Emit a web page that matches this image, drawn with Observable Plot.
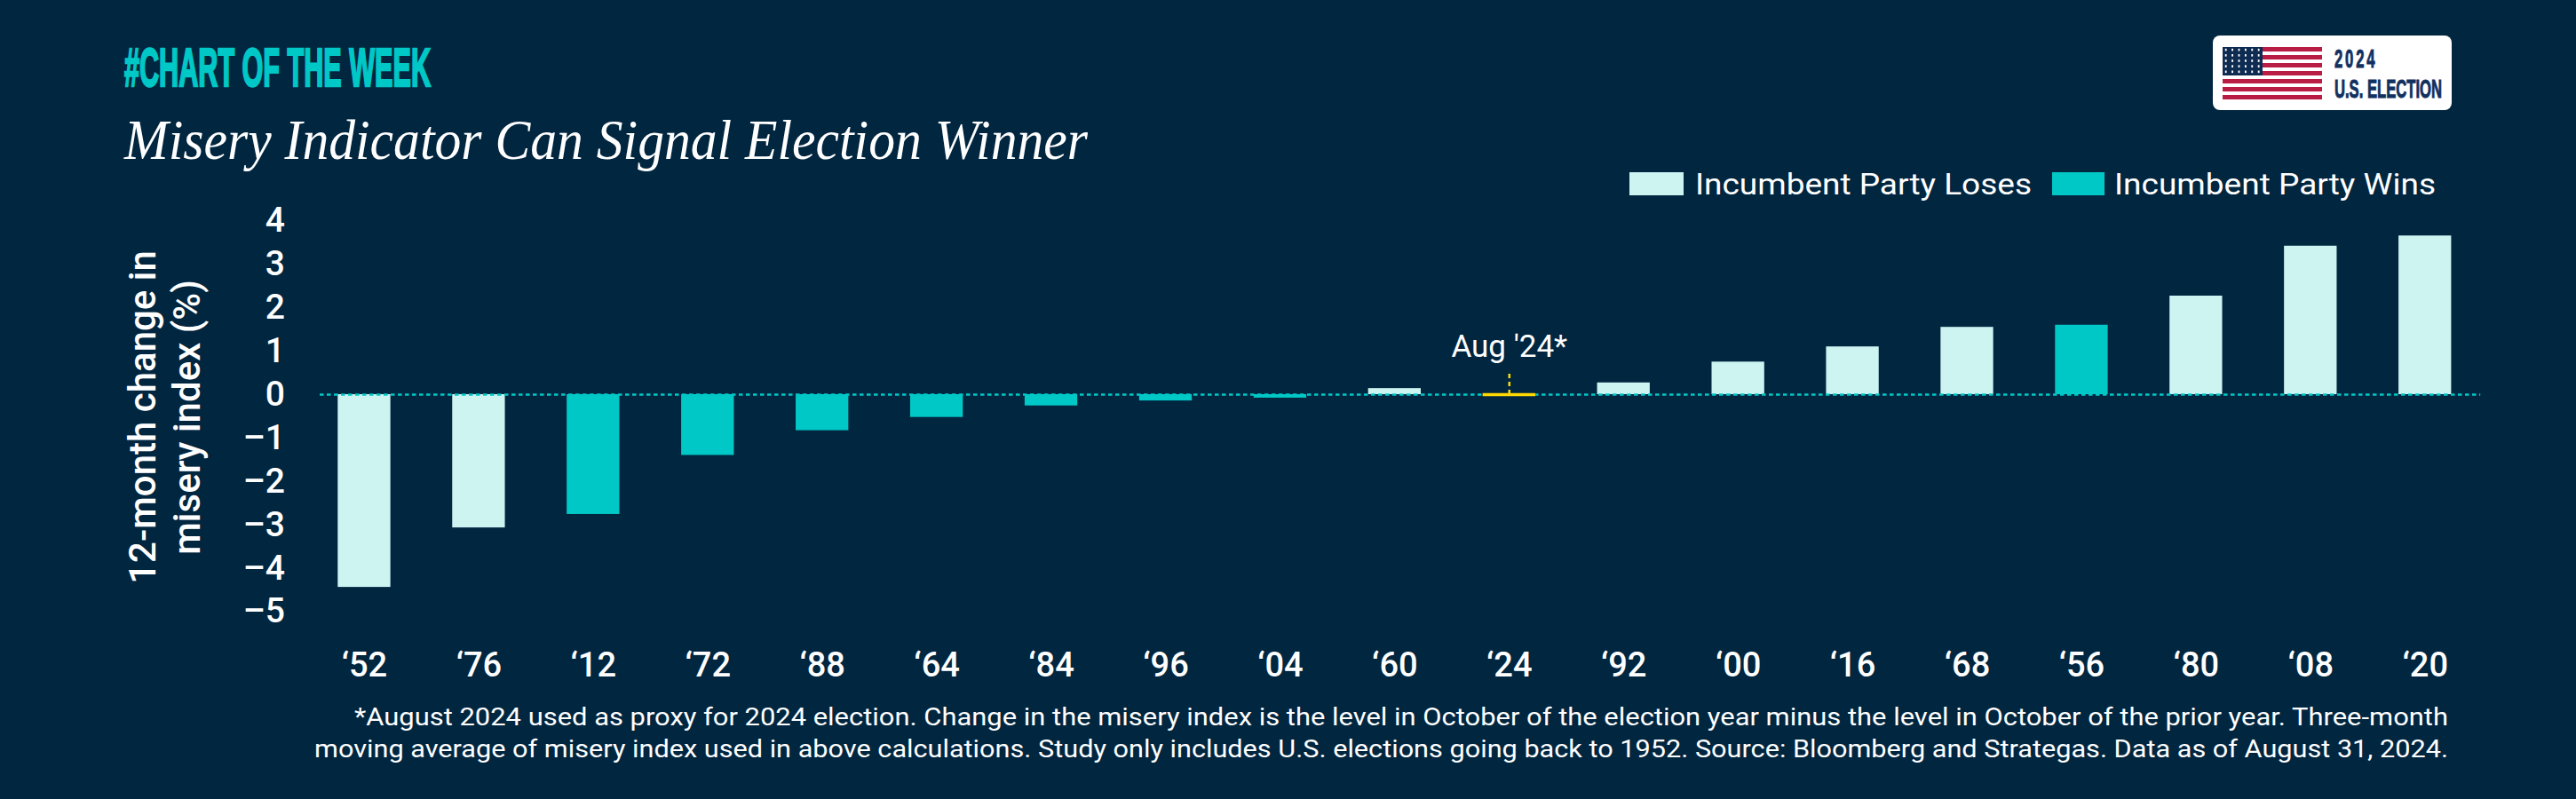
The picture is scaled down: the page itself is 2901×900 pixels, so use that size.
<!DOCTYPE html>
<html>
<head>
<meta charset="utf-8">
<script src="https://cdn.jsdelivr.net/npm/d3@7"></script>
<script src="https://cdn.jsdelivr.net/npm/@observablehq/plot@0.6"></script>
<style>
html,body{margin:0;padding:0;background:#012640;}
#page{position:relative;width:2901px;height:900px;overflow:hidden;background:#012640;}
#page svg.chart{position:absolute;left:0;top:0;}
.t{position:absolute;white-space:nowrap;line-height:1;color:#fff;transform-origin:0 0;}
.sw{position:absolute;}
#logo{position:absolute;left:2492px;top:40px;width:269px;height:84px;background:#fff;border-radius:8px;}
#flag{position:absolute;left:11px;top:13px;width:112px;height:59px;
 background:repeating-linear-gradient(to bottom,#b91c45 0,#b91c45 4.54px,#fff 4.54px,#fff 9.08px);}
#canton{position:absolute;left:0;top:0;width:45px;height:32px;background-color:#0e2b52;
 background-image:radial-gradient(circle,#fff 1px,transparent 1.3px);background-size:7.4px 6.2px;}
</style>
</head>
<body>
<div id="page">
  <div class="t" id="kicker" style="left:140px;top:40px;font:700 62px 'Liberation Sans';color:#00c8c6;-webkit-text-stroke:2.5px #00c8c6;">#CHART OF THE WEEK</div>
  <div class="t" id="title" style="left:140px;top:121px;font:italic 400 64px 'Liberation Serif';">Misery Indicator Can Signal Election Winner</div>
  <div class="sw" style="left:1835px;top:194px;width:61px;height:26px;background:#cef4f2;"></div>
  <div class="t" id="lg1" style="left:1909px;top:188px;font:400 33px Roboto;">Incumbent Party Loses</div>
  <div class="sw" style="left:2311px;top:194px;width:59px;height:26px;background:#00c8c6;"></div>
  <div class="t" id="lg2" style="left:2381px;top:188px;font:400 33px Roboto;">Incumbent Party Wins</div>
  <div id="logo">
    <div id="flag"><div id="canton"></div></div>
    <div class="t" id="lo" style="left:137px;top:10px;line-height:33.5px;font-family:'Liberation Sans';font-weight:700;font-size:29px;color:#12305f;-webkit-text-stroke:1px #12305f;"><span style="letter-spacing:5px;">2024</span><br>U.S. ELECTION</div>
  </div>
  <div class="t" id="fn1" style="left:399px;top:791px;font:400 28px Roboto;">*August 2024 used as proxy for 2024 election. Change in the misery index is the level in October of the election year minus the level in October of the prior year. Three-month</div>
  <div class="t" id="fn2" style="left:354px;top:827px;font:400 28px Roboto;">moving average of misery index used in above calculations. Study only includes U.S. elections going back to 1952. Source: Bloomberg and Strategas. Data as of August 31, 2024.</div>
</div>
<script>
const years = ["‘52","‘76","‘12","‘72","‘88","‘64","‘84","‘96","‘04","‘60","‘24","‘92","‘00","‘16","‘68","‘56","‘80","‘08","‘20"];
const changes = [-4.44,-3.07,-2.76,-1.40,-0.83,-0.525,-0.26,-0.145,-0.08,0.14,0,0.27,0.75,1.10,1.55,1.60,2.27,3.42,3.655];
const outcomes = ["Loses","Loses","Wins","Wins","Wins","Wins","Wins","Wins","Wins","Loses","Pending","Loses","Loses","Loses","Loses","Wins","Loses","Loses","Loses"];
const outcomeDomain = ["Loses","Wins","Pending"];
const outcomeColors = ["#cef4f2","#00c8c6","#ffd800"];
const yTicks = [4,3,2,1,0,-1,-2,-3,-4,-5];
const yTitle = "12-month change in\nmisery index (%)";
const noteText = "Aug '24*";
const noteTop = 0.53;

const rows = years.map((year,i)=>({year,change:changes[i],outcome:outcomes[i]}));
const settled = rows.filter(d=>d.outcome!=="Pending");
const pending = rows.filter(d=>d.outcome==="Pending");

const chart = Plot.plot({
  width:2901,height:900,
  marginTop:248.4,marginBottom:211.5,marginLeft:345.5,marginRight:105.8,
  style:{background:"transparent",color:"#fff",fontFamily:"Roboto"},
  x:{domain:years,paddingInner:0.54,paddingOuter:0.27,round:false,label:null},
  y:{domain:[-5,4],label:null},
  color:{domain:outcomeDomain,range:outcomeColors},
  marks:[
    Plot.barY(settled,{x:"year",y:"change",fill:"outcome"}),
    Plot.ruleY([0],{stroke:"#00c8c6",strokeWidth:2.3,strokeDasharray:"4.5 3.5",insetLeft:14.5,insetRight:2}),
    Plot.tickY(pending,{x:"year",y:"change",stroke:"outcome",strokeWidth:3.5}),
    Plot.ruleX(pending,{x:"year",y1:0,y2:noteTop,stroke:"outcome",strokeWidth:2.5,strokeDasharray:"5 4"}),
    Plot.text(pending,{x:"year",y:noteTop,dy:-28,text:()=>noteText,fill:"#fff",fontSize:35,fontWeight:400}),
    Plot.axisY({ticks:yTicks,tickSize:0,tickPadding:25,fontSize:39,fontWeight:500,tickFormat:d=>String(d).replace("-","–"),label:null}),
    Plot.axisX({tickSize:0,tickPadding:46,fontSize:38,fontWeight:500,label:null}),
    Plot.text([yTitle],{frameAnchor:"left",rotate:-90,dx:-162,dy:1,lineHeight:1.2,fontSize:42,fontWeight:500,fill:"#fff",lineAnchor:"middle",textAnchor:"middle"})
  ]
});
chart.classList.add("chart");
document.getElementById("page").prepend(chart);

// stretch text horizontally to the measured widths
function fit(id,w){const e=document.getElementById(id);e.style.transform="none";const r=e.getBoundingClientRect().width;e.style.transform=`scaleX(${w/r})`;}
function fitAll(){
  fit("kicker",345);fit("title",1085);fit("lg1",379);fit("lg2",362);
  fit("lo",121);fit("fn1",2358);fit("fn2",2403);
}
fitAll();
if(document.fonts&&document.fonts.ready)document.fonts.ready.then(fitAll);
</script>
</body>
</html>
